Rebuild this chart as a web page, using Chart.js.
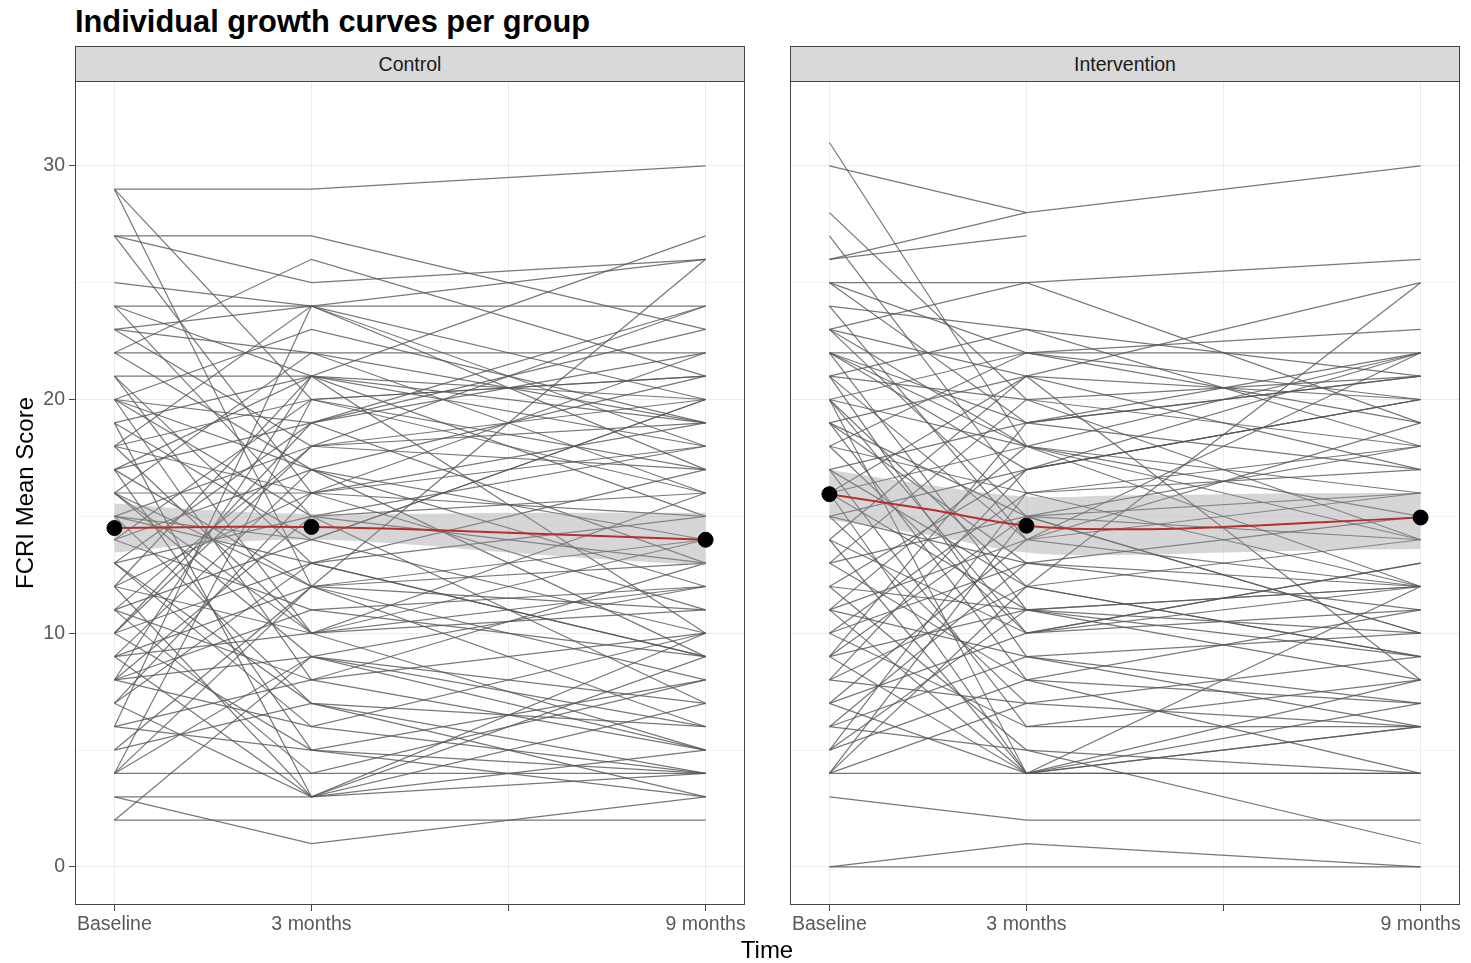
<!DOCTYPE html>
<html>
<head>
<meta charset="utf-8">
<title>Individual growth curves per group</title>
<script src="https://cdn.jsdelivr.net/npm/chart.js@4.4.1/dist/chart.umd.min.js"></script>
<style>
  body { margin: 0; background: #fff; font-family: "Liberation Sans", Arial, sans-serif; }
  #page { position: relative; width: 1471px; height: 963px; overflow: hidden; }
  canvas { position: absolute; }
  .title { position: absolute; left: 75px; top: 4px; font-size: 30.8px; font-weight: bold; color: #000; white-space: nowrap; }
  .strip { position: absolute; top: 46px; height: 36px; box-sizing: border-box; border: 1px solid #444; background: #d9d9d9;
           text-align: center; line-height: 34px; font-size: 19.5px; color: #1a1a1a; }
  .ytitle { position: absolute; left: 25px; top: 493px; font-size: 24px; color: #000; white-space: nowrap;
            transform: translate(-50%, -50%) rotate(-90deg); }
  .xtitle { position: absolute; left: 767px; top: 950px; font-size: 24px; color: #000; transform: translate(-50%, -50%); }
</style>
</head>
<body>
<div id="page">
  <div class="title">Individual growth curves per group</div>
  <div class="strip" style="left:75px;width:670px">Control</div>
  <div class="strip" style="left:790px;width:670px">Intervention</div>
  <canvas id="controlChart" width="760" height="882" style="left:0;top:81px"></canvas>
  <canvas id="interventionChart" width="691" height="882" style="left:780px;top:81px"></canvas>
  <div class="ytitle">FCRI Mean Score</div>
  <div class="xtitle">Time</div>
</div>

<script>
"use strict";

// Time points (months) and the axis labels
const timeMonths = [0, 3, 9];
const tickValues = [0, 3, 6, 9];
const tickLabels = ["Baseline", "3 months", "", "9 months"];
const yTickValues = [0, 5, 10, 15, 20, 25, 30];

// Control group: one value per participant at each time point
const controlBaseline = [
	29, 29, 29, 27, 27, 27, 25, 22, 24, 24,
	23, 23, 23, 22, 22, 21, 21, 20, 20, 20,
	20, 19, 19, 19, 18, 18, 18, 18, 17, 17,
	17, 17, 16, 16, 16, 16, 15, 15, 15, 14,
	14, 14, 13, 13, 13, 12, 12, 12, 12, 11,
	11, 11, 11, 10, 10, 10, 9, 9, 9, 9,
	8, 8, 8, 8, 8, 7, 7, 7, 6, 6,
	6, 5, 5, 4, 4, 4, 4, 3, 3, 2,
	2, 24, 21, 13, 10, 15, 20, 16,
];
const control3m = [
	29, 20, 12, 27, 25, 16, 24, 26, 21, 24,
	22, 18, 24, 17, 22, 21, 13, 23, 19, 15,
	8, 21, 14, 3, 20, 16, 10, 24, 19, 12,
	21, 5, 22, 16, 9, 12, 18, 13, 7, 17,
	11, 20, 15, 6, 19, 16, 10, 21, 3, 14,
	8, 18, 4, 13, 19, 5, 12, 17, 3, 10,
	15, 9, 21, 6, 11, 13, 3, 16, 8, 24,
	5, 12, 7, 4, 12, 20, 9, 1, 3, 2,
	9, 15, 10, 7, 18, 14, 17, 10,
];
const control9m = [
	30, 17, 14, 23, 26, 19, 26, 21, 27, 24,
	16, 24, 20, 12, 22, 18, 9, 19, 22, 13,
	5, 15, 20, 7, 21, 11, 16, 18, 23, 8,
	10, 4, 19, 15, 12, 26, 20, 17, 6, 21,
	9, 16, 18, 10, 13, 22, 5, 19, 4, 10,
	13, 17, 8, 15, 24, 3, 6, 14, 9, 11,
	16, 7, 20, 4, 12, 9, 5, 18, 10, 17,
	8, 11, 4, 4, 13, 21, 6, 3, 10, 2,
	5, 7, 12, 3, 19, 20, 9, 14,
];

// Intervention group (null = no measurement)
const interventionBaseline = [
	31, 30, 26, 26, 28, 27, 25, 25, 25, 24,
	23, 23, 23, 23, 22, 22, 22, 22, 21, 21,
	21, 21, 20, 20, 20, 20, 19, 19, 19, 18,
	18, 18, 17, 17, 16, 16, 16, 15, 15, 15,
	14, 14, 14, 13, 13, 12, 12, 12, 11, 11,
	11, 10, 10, 10, 9, 9, 9, 9, 8, 8,
	8, 7, 7, 7, 6, 6, 6, 5, 5, 5,
	4, 4, 4, 4, 3, 0, 0, 24, 20, 17,
	13, 11, 22, 19, 16,
];
const intervention3m = [
	18, 28, 28, 27, 20, 16, 25, 22, 19, 23,
	25, 21, 15, 18, 22, 17, 11, 19, 23, 14,
	9, 20, 18, 12, 22, 4, 21, 13, 8, 16,
	22, 10, 19, 6, 18, 11, 4, 17, 13, 7,
	21, 10, 4, 15, 8, 17, 11, 5, 14, 9,
	18, 13, 6, 16, 15, 11, 4, 19, 12, 7,
	17, 10, 14, 4, 9, 13, 5, 11, 8, 16,
	4, 12, 7, 15, 2, 1, 0, 14, 10, 12,
	20, 4, 18, 15, 21,
];
const intervention9m = [
	16, null, 30, null, 14, 12, 26, 22, 17, 21,
	19, 25, 10, null, 23, 20, 8, 22, 18, 16,
	6, 21, 22, 9, 19, 7, 20, 11, 4, 18,
	20, 12, 21, 8, 14, 10, 6, 22, null, 9,
	17, 13, 4, 16, 11, 20, 12, 4, 19, 7,
	15, 12, 6, null, 18, 9, 8, 21, 14, 6,
	20, 11, 12, 6, 10, 15, 1, 12, 7, 17,
	4, 9, null, 14, 2, 0, 0, 22, 13, 25,
	18, 12, 12, 10, 8,
];

// Group means (black dots)
const controlMeans = [14.5, 14.55, 14.0];
const interventionMeans = [15.95, 14.6, 14.95];

// Smoothed trend (red line) with its confidence band
const smoothX = [0, 1.5, 3, 4.5, 6, 7.5, 9];
const controlFit = [14.5, 14.55, 14.55, 14.45, 14.3, 14.15, 14.0];
const controlLower = [13.45, 13.85, 14.0, 13.8, 13.45, 13.15, 12.9];
const controlUpper = [15.55, 15.25, 15.1, 15.1, 15.15, 15.15, 15.15];
const interventionFit = [15.95, 15.3, 14.6, 14.45, 14.55, 14.75, 14.95];
const interventionLower = [14.85, 14.2, 13.45, 13.35, 13.45, 13.55, 13.6];
const interventionUpper = [17.0, 16.35, 15.85, 15.9, 15.95, 16.0, 16.0];

Chart.defaults.font.family = '"Liberation Sans", Arial, sans-serif';

// Draws the dark frame round the plotting area
const panelBorder = {
	id: "panelBorder",
	afterDraw(chart) {
		const { ctx, chartArea: a } = chart;
		ctx.save();
		ctx.strokeStyle = "#444";
		ctx.lineWidth = 1;
		ctx.strokeRect(Math.round(a.left) + 0.5, Math.round(a.top) + 0.5,
			Math.round(a.right - a.left) - 1, Math.round(a.bottom - a.top) - 1);
		ctx.restore();
	},
};

function toPoints(xs, ys) {
	return xs.map((x, i) => ({ x: x, y: ys[i] }));
}

function makePanel(canvasId, baseline, m3, m9, means, fit, lower, upper, showY, padLeft, padRight) {
	const datasets = [];

	// one thin grey line per participant
	baseline.forEach(function (b, i) {
		const values = [b, m3[i], m9[i]];
		datasets.push({
			data: toPoints(timeMonths, values).filter(p => p.y !== null),
			borderColor: "rgba(85, 85, 85, 0.8)",
			borderWidth: 1.2,
			pointRadius: 0,
			fill: false,
			order: 3,
		});
	});

	const lowerIndex = datasets.length;
	datasets.push({
		data: toPoints(smoothX, lower),
		borderWidth: 0,
		borderColor: "rgba(0,0,0,0)",
		pointRadius: 0,
		tension: 0.4,
		fill: false,
		order: 2,
	});
	datasets.push({
		data: toPoints(smoothX, upper),
		borderWidth: 0,
		borderColor: "rgba(0,0,0,0)",
		backgroundColor: "rgba(153, 153, 153, 0.4)",
		pointRadius: 0,
		tension: 0.4,
		fill: { target: lowerIndex },
		order: 2,
	});
	datasets.push({
		data: toPoints(smoothX, fit),
		borderColor: "#b5302a",
		borderWidth: 2,
		pointRadius: 0,
		tension: 0.4,
		fill: false,
		order: 1,
	});
	datasets.push({
		data: toPoints(timeMonths, means),
		showLine: false,
		pointRadius: 7.5,
		pointBackgroundColor: "#000",
		pointBorderColor: "#000",
		order: 0,
	});

	new Chart(document.getElementById(canvasId), {
		type: "line",
		data: { datasets: datasets },
		plugins: [panelBorder],
		options: {
			responsive: false,
			animation: false,
			events: [],
			layout: { autoPadding: false, padding: { left: padLeft, right: padRight, top: 0, bottom: 0 } },
			plugins: { legend: { display: false }, tooltip: { enabled: false } },
			scales: {
				x: {
					type: "linear",
					min: -0.6,
					max: 9.6,
					afterBuildTicks(scale) {
						scale.ticks = tickValues.map(v => ({ value: v }));
					},
					afterFit(scale) {
						scale.height = 58;
						scale.paddingLeft = 0;
						scale.paddingRight = 0;
					},
					border: { display: false },
					grid: { color: "#ebebeb", lineWidth: 1, tickColor: "#444", tickLength: 6 },
					ticks: {
						autoSkip: false,
						maxRotation: 0,
						padding: 2,
						color: "#595959",
						font: { size: 19.5 },
						callback: value => tickLabels[tickValues.indexOf(value)],
					},
				},
				y: {
					type: "linear",
					min: -1.63,
					max: 33.63,
					afterBuildTicks(scale) {
						scale.ticks = yTickValues.map(v => ({ value: v }));
					},
					afterFit(scale) {
						scale.width = showY ? 75 : 0;
						scale.paddingTop = 0;
						scale.paddingBottom = 0;
					},
					border: { display: false },
					grid: {
						color: ctx => (ctx.tick && ctx.tick.value % 10 === 0 ? "#ebebeb" : "#f4f4f4"),
						lineWidth: 1,
						drawTicks: showY,
						tickLength: 6,
						tickColor: ctx => (ctx.tick && ctx.tick.value % 10 === 0 ? "#444" : "rgba(0,0,0,0)"),
					},
					ticks: {
						display: showY,
						padding: 4,
						color: "#595959",
						font: { size: 19.5 },
						callback: value => (value % 10 === 0 ? String(value) : ""),
					},
				},
			},
		},
	});
}

makePanel("controlChart", controlBaseline, control3m, control9m, controlMeans,
	controlFit, controlLower, controlUpper, true, 0, 15);
makePanel("interventionChart", interventionBaseline, intervention3m, intervention9m, interventionMeans,
	interventionFit, interventionLower, interventionUpper, false, 10, 11);
</script>
</body>
</html>
